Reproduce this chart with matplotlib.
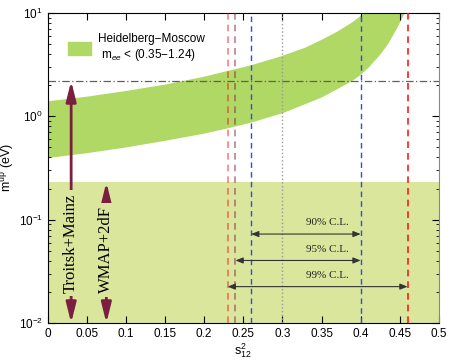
import matplotlib
matplotlib.use("Agg")
import matplotlib.pyplot as plt
from matplotlib.patches import Patch

plt.rcParams['font.family'] = ['Liberation Sans', 'DejaVu Sans']
plt.rcParams['mathtext.fontset'] = 'custom'
plt.rcParams['mathtext.rm'] = 'Liberation Sans'
plt.rcParams['mathtext.it'] = 'Liberation Sans:italic'

# Heidelberg-Moscow band, edges
s_up = [0.0, 0.05, 0.1, 0.15, 0.2, 0.23, 0.26, 0.3, 0.33, 0.35, 0.37, 0.39, 0.40, 0.405]
m_up = [1.40, 1.55, 1.76, 2.03, 2.42, 2.75, 3.12, 3.85, 4.65, 5.5, 6.6, 8.2, 9.4, 10.2]
s_lo = [0.0, 0.05, 0.1, 0.15, 0.2, 0.23, 0.26, 0.3, 0.33, 0.35, 0.37, 0.39, 0.40,
        0.41, 0.425, 0.435, 0.446, 0.452, 0.457]
m_lo = [0.395, 0.44, 0.50, 0.58, 0.68, 0.765, 0.87, 1.07, 1.32, 1.52, 1.83, 2.22, 2.52,
        2.95, 3.95, 5.0, 7.0, 8.6, 10.2]

cosmo_limit = 0.23      # WMAP+2dF
tritium_limit = 2.2     # Troitsk+Mainz
x_best = 0.30

cl_labels = ['90% C.L.', '95% C.L.', '99% C.L.']
cl_lo = [0.26, 0.24, 0.23]
cl_hi = [0.40, 0.40, 0.46]
cl_y = [0.0726, 0.0403, 0.0225]

xticks = [0, 0.05, 0.1, 0.15, 0.2, 0.25, 0.3, 0.35, 0.4, 0.45, 0.5]
xtick_labels = ['0', '0.05', '0.1', '0.15', '0.2', '0.25', '0.3', '0.35', '0.4', '0.45', '0.5']

band_c = '#b0d865'
light_c = '#d9e69b'
arrow_c = '#7a1f3f'
blue_c = '#3348ee'

fig = plt.figure(figsize=(4.52, 3.62), dpi=100)
ax = fig.add_axes([0.1055, 0.1077, 0.8655, 0.8563])
ax.set_yscale('log')
ax.set_xlim(0, 0.5)
ax.set_ylim(1e-2, 10)

ax.axhspan(1e-2, cosmo_limit, color=light_c, lw=0, zorder=0)
ax.fill(s_up + s_lo[::-1], m_up + m_lo[::-1], color=band_c, lw=0, zorder=1)

ax.axhline(tritium_limit, color='#606060', lw=0.9, ls=(0, (6, 2, 1, 2)), zorder=2)
ax.axvline(x_best, color='#999999', lw=1.0, ls=':', zorder=2)

dash = (0, (4, 3))
ax.axvline(0.23, color='red', alpha=0.5, lw=1.2, ls=dash, zorder=3)
ax.axvline(0.24, color=arrow_c, alpha=0.55, lw=1.2, ls=dash, zorder=3)
ax.axvline(0.26, color=blue_c, lw=1.0, ls=dash, zorder=3)
ax.axvline(0.40, color=blue_c, lw=1.0, ls=dash, zorder=3)
ax.axvline(0.46, color='#ff1a1a', lw=1.2, ls=dash, zorder=3)

for lab, a, b, y in zip(cl_labels, cl_lo, cl_hi, cl_y):
    ax.annotate('', xy=(b, y), xytext=(a, y),
                arrowprops=dict(arrowstyle='<|-|>,head_length=0.45,head_width=0.18',
                                color='#333333', lw=0.8, shrinkA=0, shrinkB=0),
                zorder=4)
    ax.annotate(lab, xy=(0.33, y), xytext=(0, 8), textcoords='offset points',
                ha='left', va='center', fontsize=8, family='Liberation Serif',
                color='#222222')

# big limit arrows
big = dict(arrowstyle='<|-|>,head_length=0.6,head_width=0.15', mutation_scale=20,
           color=arrow_c, lw=2.0, shrinkA=0, shrinkB=0)
ax.annotate('', xy=(0.03, tritium_limit), xytext=(0.03, 1e-2), arrowprops=big, zorder=5)
ax.annotate('', xy=(0.075, cosmo_limit), xytext=(0.075, 1e-2), arrowprops=big, zorder=5)
ax.text(0.03, 0.059, 'Troitsk+Mainz', rotation=90, ha='center', va='center',
        fontsize=12, family='Liberation Serif', zorder=6,
        bbox=dict(fc=light_c, ec='none', pad=2.5))
ax.text(0.075, 0.051, 'WMAP+2dF', rotation=90, ha='center', va='center',
        fontsize=12, family='Liberation Serif', zorder=6,
        bbox=dict(fc=light_c, ec='none', pad=2.5))

ax.legend(handles=[Patch(color=band_c)],
          labels=['Heidelberg\u2212Moscow\n m$_{ee}$ < (0.35\u22121.24)'],
          loc='upper left', bbox_to_anchor=(0.025, 0.97), frameon=False,
          fontsize=8.5, handlelength=1.9, handleheight=1.4, handletextpad=0.6)

ax.set_xticks(xticks)
ax.set_xticklabels(xtick_labels)
ax.tick_params(which='both', direction='in', top=True, right=True, labelsize=8.5)
ax.tick_params(which='major', length=5)
ax.tick_params(which='minor', length=2.5)
ax.spines['right'].set_color('#888888')

ax.set_xlabel(r'$\mathrm{s}^2_{12}$', fontsize=9, labelpad=1)
ax.set_ylabel(r'm$^{\rm up}$ (eV)', fontsize=9, labelpad=2)

fig.savefig('out.png', dpi=100)
